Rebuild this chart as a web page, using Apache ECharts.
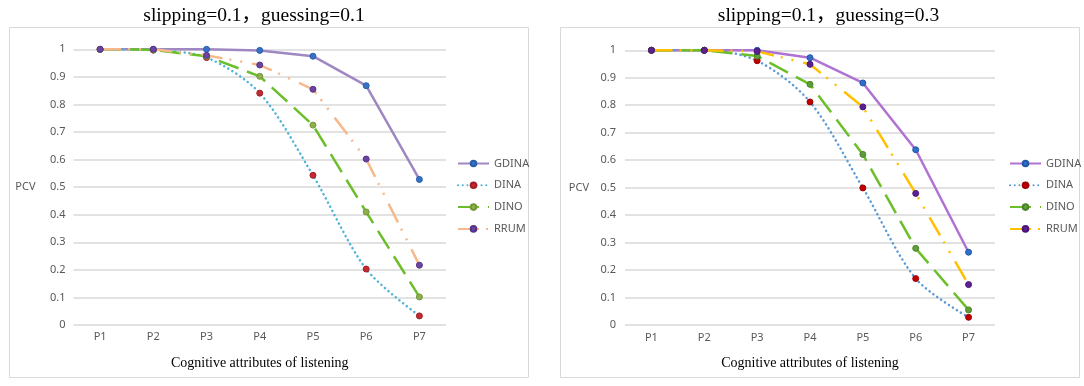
<!DOCTYPE html>
<html>
<head>
<meta charset="utf-8">
<script src="https://cdn.jsdelivr.net/npm/echarts@6/dist/echarts.min.js"></script>
<style>
  html, body { margin: 0; padding: 0; background: #fff; }
  #left { position: absolute; left: 0; top: 0; width: 545px; height: 386px; }
  #right { position: absolute; left: 545px; top: 0; width: 539px; height: 386px; }
</style>
</head>
<body>
<div id="left"></div>
<div id="right"></div>
<script>
// categories (cognitive attributes)
const categories = ['P1', 'P2', 'P3', 'P4', 'P5', 'P6', 'P7'];
const seriesNames = ['GDINA', 'DINA', 'DINO', 'RRUM'];

// slipping=0.1, guessing=0.1
const gdinaG1 = [1.0, 1.0, 1.0, 0.996, 0.975, 0.868, 0.528];
const dinaG1 = [1.0, 0.997, 0.970, 0.841, 0.543, 0.203, 0.033];
const dinoG1 = [1.0, 0.998, 0.975, 0.902, 0.725, 0.410, 0.102];
const rrumG1 = [1.0, 1.0, 0.978, 0.943, 0.855, 0.602, 0.217];

// slipping=0.1, guessing=0.3
const gdinaG3 = [1.0, 1.0, 1.0, 0.973, 0.881, 0.638, 0.265];
const dinaG3 = [1.0, 1.0, 0.962, 0.812, 0.499, 0.169, 0.028];
const dinoG3 = [1.0, 1.0, 0.979, 0.876, 0.621, 0.279, 0.055];
const rrumG3 = [1.0, 1.0, 0.996, 0.949, 0.794, 0.479, 0.147];

const labelFont = 'Noto Sans';
const serifFont = '"Liberation Serif", "Noto Sans CJK SC"';

// line dash patterns similar to Excel's
const dashTypes = {
  GDINA: 'solid',
  DINA: [0.1, 4.6],
  DINO: [21, 9],
  RRUM: [21, 7, 2, 9, 2, 10]
};

function makeOption(cfg) {
  const values = [cfg.gdina, cfg.dina, cfg.dino, cfg.rrum];
  return {
    animation: false,
    title: {
      text: cfg.title,
      left: cfg.titleX,
      top: 1,
      textAlign: 'center',
      textStyle: { fontFamily: serifFont, fontSize: 19.5, fontWeight: 'normal', color: '#000' }
    },
    graphic: [{
      type: 'rect',
      shape: cfg.panel,
      style: { fill: 'none', stroke: '#D9D9D9', lineWidth: 1 },
      silent: true
    }],
    legend: {
      orient: 'vertical',
      left: cfg.legendX,
      top: 153,
      itemWidth: 31,
      itemHeight: 7,
      itemGap: 10.8,
      data: seriesNames,
      textStyle: { fontFamily: labelFont, fontSize: 11, color: '#595959' }
    },
    grid: cfg.grid,
    xAxis: {
      type: 'category',
      data: categories,
      boundaryGap: true,
      name: 'Cognitive attributes of listening',
      nameLocation: 'middle',
      nameGap: 31,
      nameTextStyle: { fontFamily: serifFont, fontSize: 14, color: '#000' },
      axisLine: { show: false },
      axisTick: { show: false },
      axisLabel: { margin: cfg.xLabelMargin, fontFamily: labelFont, fontSize: 11, color: '#595959' }
    },
    yAxis: {
      type: 'value',
      min: 0,
      max: 1,
      interval: 0.1,
      name: 'PCV',
      nameLocation: 'middle',
      nameRotate: 0,
      nameGap: cfg.yNameGap,
      nameTextStyle: { fontFamily: labelFont, fontSize: 11, color: '#595959', padding: [0, 0, 8, 0] },
      axisLine: { show: false },
      axisTick: { show: false },
      axisLabel: { margin: cfg.yLabelMargin, fontFamily: labelFont, fontSize: 11, color: '#595959' },
      splitLine: { lineStyle: { color: '#D9D9D9', width: 1.5 } }
    },
    series: seriesNames.map((name, i) => ({
      name: name,
      type: 'line',
      data: values[i],
      clip: false,
      smooth: name === 'DINA' ? 0.3 : false,
      symbol: 'circle',
      symbolSize: 6,
      lineStyle: {
        color: cfg.lineColors[i],
        width: 2.5,
        type: dashTypes[name],
        cap: name === 'DINA' ? 'round' : 'butt'
      },
      itemStyle: {
        color: cfg.markerColors[i],
        borderColor: cfg.markerBorders[i],
        borderWidth: 1
      },
      emphasis: { disabled: true }
    }))
  };
}

const leftChart = echarts.init(document.getElementById('left'));
leftChart.setOption(makeOption({
  title: 'slipping=0.1，guessing=0.1',
  titleX: 249,
  panel: { x: 9.5, y: 27.5, width: 519, height: 350 },
  legendX: 452,
  grid: { left: 73.5, right: 99, top: 49.3, bottom: 61 },
  xLabelMargin: 6,
  yLabelMargin: 8,
  yNameGap: 38,
  gdina: gdinaG1, dina: dinaG1, dino: dinoG1, rrum: rrumG1,
  lineColors: ['#9F88C2', '#4FB3D8', '#6CBE2B', '#F7B98B'],
  markerColors: ['#3572C6', '#C42B30', '#8DAF4C', '#6A44A0'],
  markerBorders: ['#2A5EA8', '#A02025', '#74963A', '#56338A']
}));

const rightChart = echarts.init(document.getElementById('right'));
rightChart.setOption(makeOption({
  title: 'slipping=0.1，guessing=0.3',
  titleX: 278.5,
  panel: { x: 15.5, y: 27.5, width: 519, height: 350 },
  legendX: 459,
  grid: { left: 80, right: 89, top: 50.3, bottom: 61 },
  xLabelMargin: 7,
  yLabelMargin: 9,
  yNameGap: 36,
  gdina: gdinaG3, dina: dinaG3, dino: dinoG3, rrum: rrumG3,
  lineColors: ['#B072D2', '#5B9BD5', '#6CBE2B', '#FFC000'],
  markerColors: ['#2F6FC8', '#C00000', '#5E9E38', '#5C2091'],
  markerBorders: ['#2358A6', '#A00000', '#4A842A', '#4A1678']
}));
</script>
</body>
</html>
